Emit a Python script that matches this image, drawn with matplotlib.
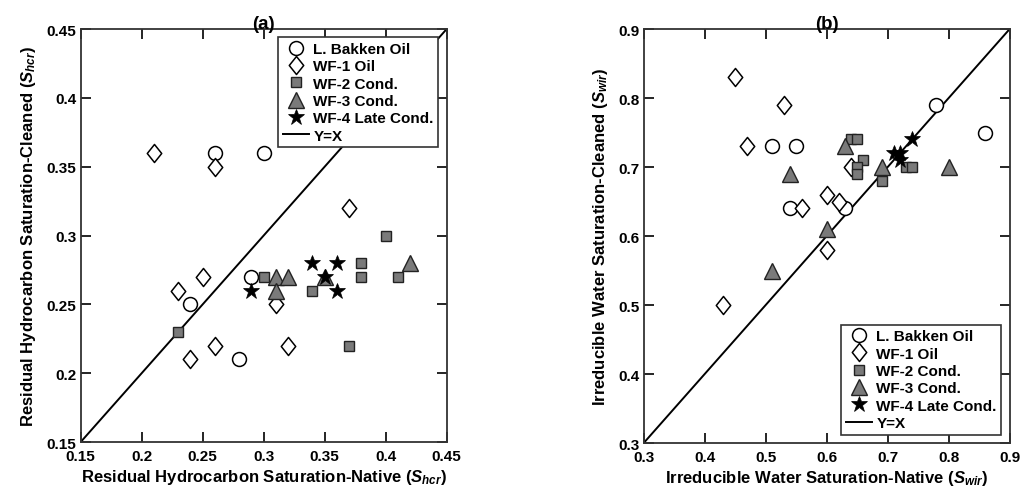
import matplotlib
matplotlib.use("Agg")
import matplotlib.pyplot as plt
from matplotlib.lines import Line2D
from matplotlib.path import Path

plt.rcParams['font.family'] = ['Liberation Sans', 'DejaVu Sans']
plt.rcParams['font.weight'] = 'bold'
plt.rcParams['axes.labelweight'] = 'bold'
plt.rcParams['mathtext.fontset'] = 'custom'
plt.rcParams['mathtext.it'] = 'Liberation Sans:italic:bold'
plt.rcParams['mathtext.rm'] = 'Liberation Sans:bold'

# ---- Panel (a): residual hydrocarbon saturation ----
a_bakken_x = [0.26, 0.30, 0.24, 0.29, 0.28]
a_bakken_y = [0.36, 0.36, 0.25, 0.27, 0.21]
a_wf1_x = [0.21, 0.26, 0.37, 0.23, 0.25, 0.24, 0.26, 0.31, 0.32]
a_wf1_y = [0.36, 0.35, 0.32, 0.26, 0.27, 0.21, 0.22, 0.25, 0.22]
a_wf2_x = [0.23, 0.40, 0.38, 0.38, 0.41, 0.34, 0.30, 0.37]
a_wf2_y = [0.23, 0.30, 0.28, 0.27, 0.27, 0.26, 0.27, 0.22]
a_wf3_x = [0.31, 0.31, 0.32, 0.42, 0.35]
a_wf3_y = [0.27, 0.26, 0.27, 0.28, 0.27]
a_wf4_x = [0.29, 0.34, 0.36, 0.35, 0.36]
a_wf4_y = [0.26, 0.28, 0.28, 0.27, 0.26]

# ---- Panel (b): irreducible water saturation ----
b_bakken_x = [0.51, 0.55, 0.54, 0.63, 0.78, 0.86]
b_bakken_y = [0.73, 0.73, 0.64, 0.64, 0.79, 0.75]
b_wf1_x = [0.45, 0.53, 0.47, 0.64, 0.60, 0.62, 0.56, 0.60, 0.43]
b_wf1_y = [0.83, 0.79, 0.73, 0.70, 0.66, 0.65, 0.64, 0.58, 0.50]
b_wf2_x = [0.64, 0.65, 0.66, 0.65, 0.65, 0.69, 0.73, 0.74]
b_wf2_y = [0.74, 0.74, 0.71, 0.70, 0.69, 0.68, 0.70, 0.70]
b_wf3_x = [0.63, 0.54, 0.60, 0.51, 0.69, 0.80]
b_wf3_y = [0.73, 0.69, 0.61, 0.55, 0.70, 0.70]
b_wf4_x = [0.71, 0.72, 0.72, 0.74]
b_wf4_y = [0.72, 0.72, 0.71, 0.74]

series_labels = ['L. Bakken Oil', 'WF-1 Oil', 'WF-2 Cond.', 'WF-3 Cond.', 'WF-4 Late Cond.']

# slightly narrow diamond, taller than wide
diamond = Path([(0, 1), (0.8, 0), (0, -1), (-0.8, 0), (0, 1)],
               [Path.MOVETO, Path.LINETO, Path.LINETO, Path.LINETO, Path.CLOSEPOLY])

gray = '#7a7a7a'
edge = '#222222'
styles = [
    dict(marker='o', ms=10, mfc='white', mec='black', mew=1.1),
    dict(marker=diamond, ms=13, mfc='white', mec='black', mew=1.1),
    dict(marker='s', ms=7.5, mfc=gray, mec=edge, mew=1.0),
    dict(marker='^', ms=11, mfc=gray, mec=edge, mew=1.0),
    dict(marker='*', ms=12, mfc='black', mec='black', mew=0.5),
]

fig = plt.figure(figsize=(10.24, 5.02), dpi=100)
ax_a = fig.add_axes([0.0788, 0.1175, 0.3574, 0.8227])
ax_b = fig.add_axes([0.6286, 0.1155, 0.3574, 0.8247])


def draw(ax, xs, ys, lims, ticks, title, xlabel, ylabel, legend_loc):
    lo, hi = lims
    ax.plot([lo, hi], [lo, hi], color='black', lw=1.4, label='Y=X', zorder=1)
    handles = []
    for (x, y), st, lab in zip(zip(xs, ys), styles, series_labels):
        ax.plot(x, y, ls='none', zorder=3, **st)
        handles.append(Line2D([], [], ls='none', label=lab, **st))
    handles.append(Line2D([], [], color='black', lw=1.4, label='Y=X'))
    ax.set_xlim(lo, hi)
    ax.set_ylim(lo, hi)
    ax.set_xticks(ticks)
    ax.set_yticks(ticks)
    ax.set_xticklabels([f'{t:g}' for t in ticks])
    ax.set_yticklabels([f'{t:g}' for t in ticks])
    ax.tick_params(direction='in', length=7, width=1.2, top=True, right=True,
                   labelsize=11)
    ax.tick_params(axis='x', pad=5)
    ax.tick_params(axis='y', pad=3)
    for s in ax.spines.values():
        s.set_linewidth(1.3)
        s.set_color('#333333')
    ax.set_title(title, fontsize=13.5, fontweight='bold', pad=1)
    ax.set_xlabel(xlabel, fontsize=12, labelpad=3)
    ax.set_ylabel(ylabel, fontsize=12, labelpad=6)
    leg = ax.legend(handles=handles, loc=legend_loc, fontsize=11, frameon=True,
                    fancybox=False, edgecolor='#333333', framealpha=1,
                    handlelength=1.7, handletextpad=0.3, borderpad=0.3,
                    labelspacing=0.22, borderaxespad=0.55)
    leg.get_frame().set_linewidth(1.2)
    for t in leg.get_texts():
        t.set_fontweight('bold')


draw(ax_a,
     [a_bakken_x, a_wf1_x, a_wf2_x, a_wf3_x, a_wf4_x],
     [a_bakken_y, a_wf1_y, a_wf2_y, a_wf3_y, a_wf4_y],
     (0.15, 0.45), [0.15, 0.2, 0.25, 0.3, 0.35, 0.4, 0.45], '(a)',
     r'Residual Hydrocarbon Saturation-Native ($S_{hcr}$)',
     r'Residual Hydrocarbon Saturation-Cleaned ($S_{hcr}$)',
     'upper right')

draw(ax_b,
     [b_bakken_x, b_wf1_x, b_wf2_x, b_wf3_x, b_wf4_x],
     [b_bakken_y, b_wf1_y, b_wf2_y, b_wf3_y, b_wf4_y],
     (0.3, 0.9), [0.3, 0.4, 0.5, 0.6, 0.7, 0.8, 0.9], '(b)',
     r'Irreducible Water Saturation-Native ($S_{wir}$)',
     r'Irreducible Water Saturation-Cleaned ($S_{wir}$)',
     'lower right')

fig.savefig('out.png', dpi=100)
